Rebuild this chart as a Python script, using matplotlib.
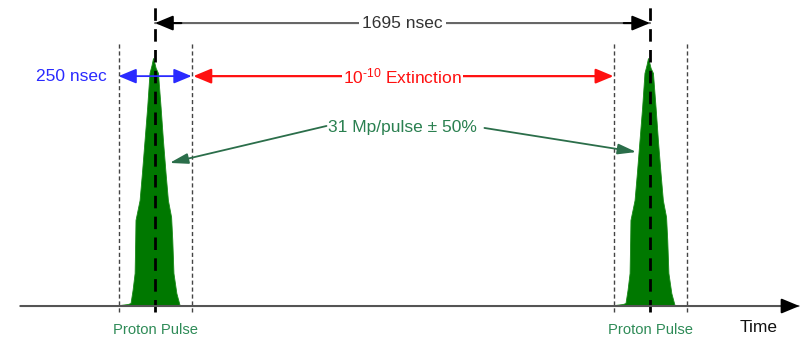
import matplotlib.pyplot as plt

plt.rcParams['font.family'] = ['Liberation Sans', 'DejaVu Sans']
plt.rcParams['mathtext.fontset'] = 'custom'
plt.rcParams['mathtext.rm'] = 'Liberation Sans'

# time between pulses and extinction window (nsec)
period = 1695
window = 250
pulse_centers = [0, period]

# pulse shape: offset from centre (nsec) and relative intensity
pulse_offsets = [-146, -122, -94, -84, -77, -70, -68, -67, -53, -45, -36, -27,
                 -19, -12, -7, -3, 2, 10, 19, 27, 36, 44, 55, 59, 63, 73, 84,
                 122, 152]
pulse_heights = [0.0, 0.004, 0.008, 0.012, 0.065, 0.133, 0.266, 0.347, 0.427,
                 0.536, 0.669, 0.802, 0.94, 0.972, 1.0, 0.984, 0.96, 0.94,
                 0.802, 0.669, 0.536, 0.427, 0.359, 0.266, 0.133, 0.052,
                 0.004, 0.0, 0.0]

labels = ['Proton Pulse', 'Proton Pulse']

fig = plt.figure(figsize=(8.08, 3.39), dpi=100)
ax = fig.add_axes([0, 0, 1, 1])
ax.set_xlim(-531, 2236)
ax.set_ylim(-0.133, 1.234)
ax.axis('off')

half = window / 2

# time axis
ax.annotate('', xy=(2213, 0), xytext=(-471, 0),
            arrowprops=dict(arrowstyle='-', color='#555555', lw=1.5))
ax.annotate('', xy=(2216, 0), xytext=(2150, 0),
            arrowprops=dict(arrowstyle='-|>,head_length=0.6,head_width=0.25',
                            color='black', lw=1.5, mutation_scale=18))
ax.text(2067, -0.085, 'Time', ha='center', va='center', fontsize=12.5, color='#111111')

for c, lab in zip(pulse_centers, labels):
    xs = [c + o for o in pulse_offsets]
    ax.fill_between(xs, 0, pulse_heights, color='#007800', lw=0.6, edgecolor='#1a8a1a')
    ax.plot([c, c], [-0.024, 1.214], color='black', lw=2, dashes=(4.5, 3))
    for side in (-1, 1):
        ax.plot([c + side * half, c + side * half], [-0.024, 1.065],
                color='#444444', lw=1, dashes=(3, 2))
    ax.text(c, -0.095, lab, ha='center', va='center', fontsize=10.6, color='#2e8b57')

# 1695 nsec
ax.annotate('', xy=(period, 1.141), xytext=(0, 1.141),
            arrowprops=dict(arrowstyle='-', color='#666666', lw=1.5, shrinkA=0, shrinkB=0))
for tip, tail in ((0, 90), (period, period - 90)):
    ax.annotate('', xy=(tip, 1.141), xytext=(tail, 1.141),
                arrowprops=dict(arrowstyle='-|>,head_length=0.6,head_width=0.25',
                                color='black', lw=1.5, shrinkA=0, shrinkB=0,
                                mutation_scale=18))
ax.text(period / 2, 1.141, '%d nsec' % period, ha='center', va='center',
        fontsize=12.5, color='#333333',
        bbox=dict(facecolor='white', edgecolor='none', pad=2))

# 250 nsec window
ax.annotate('', xy=(half, 0.927), xytext=(-half, 0.927),
            arrowprops=dict(arrowstyle='<|-|>,head_length=0.6,head_width=0.25',
                            color='#2a2aff', lw=1.3, shrinkA=0, shrinkB=0,
                            mutation_scale=18))
ax.text(-164, 0.927, '%d nsec' % window, ha='right', va='center',
        fontsize=12.5, color='#2a2aff')

# extinction
ax.annotate('', xy=(period - half, 0.927), xytext=(half + 6, 0.927),
            arrowprops=dict(arrowstyle='<|-|>,head_length=0.6,head_width=0.25',
                            color='#ff1010', lw=1.6, shrinkA=0, shrinkB=0,
                            mutation_scale=18))
ax.text(period / 2, 0.927, r'$\mathregular{10^{\text{-10}}}$ Extinction', ha='center',
        va='center', fontsize=12.5, color='#ff1010',
        bbox=dict(facecolor='white', edgecolor='none', pad=1))

# intensity
ax.text(period / 2, 0.718, '31 Mp/pulse \u00b1 50%', ha='center', va='center',
        fontsize=12.5, color='#2a8050')
for tip, tail in (((50, 0.577), (587, 0.726)), ((1648, 0.621), (1128, 0.718))):
    ax.annotate('', xy=tip, xytext=tail,
                arrowprops=dict(arrowstyle='-|>,head_length=0.7,head_width=0.2',
                                color='#2b6e4a', lw=1.3, shrinkA=0, shrinkB=0,
                                mutation_scale=16))

fig.savefig('out.png', dpi=100)
